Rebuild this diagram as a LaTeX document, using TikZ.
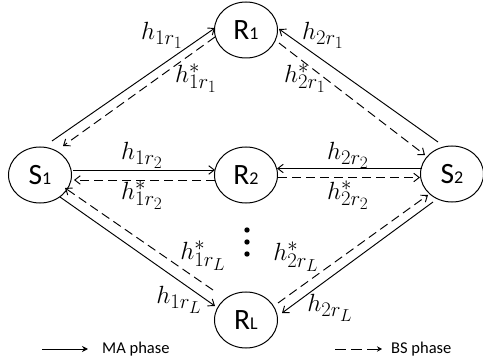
\documentclass[tikz,border=0pt]{standalone}
\usepackage{fontspec}
\newfontfamily\carl{Carlito}
\usetikzlibrary{arrows.meta,shapes.geometric,calc}
\newcommand\ndtxt[2]{{\carl\fontsize{29.5}{29.5}\selectfont #1}{\carl\fontsize{18}{18}\selectfont #2}}
\begin{document}
\begin{tikzpicture}[x=1pt,y=1pt,
  nd/.style={draw, ellipse, minimum width=63pt, minimum height=56pt, inner sep=0pt, line width=1pt},
  con/.style={line width=0.95pt, -{Straight Barb[length=5.5pt,width=8.5pt,line width=0.95pt]}},
  dsh/.style={con, dash pattern=on 9pt off 5pt},
  lab/.style={inner sep=0pt, font=\Huge},
  leg/.style={inner sep=0pt, anchor=west, font=\carl\fontsize{16.5}{17}\selectfont},
  dotnd/.style={circle, fill, inner sep=0pt, minimum size=5.4pt}
]
\useasboundingbox (0,0) rectangle (483,-361);

% nodes
\node[nd] (S1) at (40,-175) {\ndtxt{S}{1}};
\node[nd] (R1) at (246,-30) {\ndtxt{R}{1}};
\node[nd] (R2) at (246,-175) {\ndtxt{R}{2}};
\node[nd] (S2) at (452,-174) {\ndtxt{S}{2}};
\node[nd] (RL) at (246,-320) {\ndtxt{R}{L}};

% S1 -- R1
\draw[con] ($(S1)+(12,34)$) -- ($(R1)+(-31,2)$);
\draw[dsh] ($(R1)+(-31,-7)$) -- ($(S1)+(23,29)$);
% S2 -- R1
\draw[con] ($(S2)+(-14,32)$) -- ($(R1)+(33,1)$);
\draw[dsh] ($(R1)+(33,-13)$) -- ($(S2)+(-27,19)$);
% S1 -- R2
\draw[con] ($(S1)+(33,5)$) -- ($(R2)+(-31,5)$);
\draw[dsh] ($(R2)+(-31,-5)$) -- ($(S1)+(34,-5)$);
% S2 -- R2
\draw[con] ($(S2)+(-30,5.5)$) -- ($(R2)+(31,6.5)$);
\draw[dsh] ($(R2)+(32,-2.5)$) -- ($(S2)+(-32,-3.5)$);
% S1 -- RL
\draw[con] ($(S1)+(20,-22)$) -- ($(RL)+(-31,14)$);
\draw[dsh] ($(RL)+(-33,30)$) -- ($(S1)+(25,-13)$);
% S2 -- RL
\draw[con] ($(S2)+(-19,-28)$) -- ($(RL)+(36,7)$);
\draw[dsh] ($(RL)+(32,17)$) -- ($(S2)+(-24,-21)$);

% labels
\node[lab] (l1) at (162,-35) {$h_{1r_1}$};
\node[lab] (l2) at (196,-78) {$h^{*}_{1r_1}$};
\node[lab] (l3) at (323,-35) {$h_{2r_1}$};
\node[lab] (l4) at (305,-78) {$h^{*}_{2r_1}$};
\node[lab] (l5) at (142,-155) {$h_{1r_2}$};
\node[lab] (l6) at (142,-195) {$h^{*}_{1r_2}$};
\node[lab] (l7) at (348,-155) {$h_{2r_2}$};
\node[lab] (l8) at (348,-195) {$h^{*}_{2r_2}$};
\node[lab] (l9) at (203,-256) {$h^{*}_{1r_L}$};
\node[lab] (l10) at (296,-257) {$h^{*}_{2r_L}$};
\node[lab] (l11) at (179,-300) {$h_{1r_L}$};
\node[lab] (l12) at (330,-308) {$h_{2r_L}$};

% vertical dots
\node[dotnd] (d1) at (247,-230) {};
\node[dotnd] (d2) at (247,-242) {};
\node[dotnd] (d3) at (247,-254) {};

% legend
\coordinate (ma1) at (42,-349);
\coordinate (ma2) at (88,-349);
\draw[line width=1pt,-{Stealth[length=6pt,width=6pt]}] (ma1) -- (ma2);
\node[leg] (matext) at (102,-349) {MA phase};
\coordinate (bs1) at (335,-349);
\coordinate (bs2) at (382,-349);
\draw[line width=1pt,dash pattern=on 11pt off 5pt,-{Stealth[length=5pt,width=5.5pt]}] (bs1) -- (bs2);
\node[leg] (bstext) at (391,-349) {BS phase};
\end{tikzpicture}
\end{document}
